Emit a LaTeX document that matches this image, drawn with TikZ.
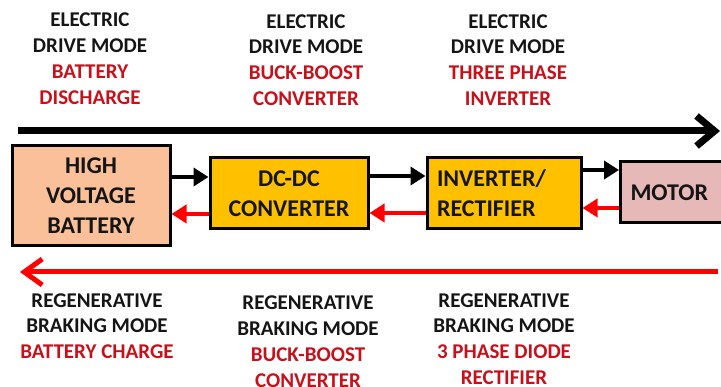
\documentclass[tikz,border=0pt]{standalone}
\usepackage{fontspec}
\setmainfont{Carlito}
\usetikzlibrary{arrows.meta}
\definecolor{peach}{HTML}{F9C09A}
\definecolor{amber}{HTML}{FFC000}
\definecolor{mauve}{HTML}{E6B8B7}
\definecolor{dred}{HTML}{C8101A}
\definecolor{txt}{HTML}{151515}
\begin{document}
\begin{tikzpicture}[x=1pt,y=-1pt,
  lbl/.style={font=\fontsize{21}{25.8}\selectfont\bfseries, align=center, inner sep=0pt, text=txt},
  blk/.style={draw=black, line width=3pt, font=\fontsize{24}{30}\selectfont\bfseries, align=center, inner sep=0pt, text=txt},
  fwd/.style={line width=4.5pt, -{Triangle[length=15pt,width=18pt]}},
  bwd/.style={fwd, red},
  bigfwd/.style={line width=7pt, -{Straight Barb[length=18pt,width=30pt]}},
  bigbwd/.style={line width=5pt, red, -{Straight Barb[length=18pt,width=26pt]}}
]
\useasboundingbox (0,0) rectangle (721,387);
\clip (0,0) rectangle (721,387);

% labels top
\node[lbl] (t1) at (90,58.5) {ELECTRIC\\DRIVE MODE\\{\color{dred}BATTERY}\\{\color{dred}DISCHARGE}};
\node[lbl] (t2) at (306,60) {ELECTRIC\\DRIVE MODE\\{\color{dred}BUCK-BOOST}\\{\color{dred}CONVERTER}};
\node[lbl] (t3) at (508,60) {ELECTRIC\\DRIVE MODE\\{\color{dred}THREE PHASE}\\{\color{dred}INVERTER}};

% labels bottom
\node[lbl] (b1) at (97,326) {REGENERATIVE\\BRAKING MODE\\{\color{dred}BATTERY CHARGE}};
\node[lbl] (b2) at (308,341.5) {REGENERATIVE\\BRAKING MODE\\{\color{dred}BUCK-BOOST}\\{\color{dred}CONVERTER}};
\node[lbl] (b3) at (504,339) {REGENERATIVE\\BRAKING MODE\\{\color{dred}3 PHASE DIODE}\\{\color{dred}RECTIFIER}};

% big arrows
\coordinate (ta) at (18,131);
\coordinate (tb) at (720,131);
\draw[bigfwd] (ta) -- (tb);
\coordinate (ra) at (718,272);
\coordinate (rb) at (20,272);
\draw[bigbwd] (ra) -- (rb);

% blocks
\node[blk, fill=peach, minimum width=158pt, minimum height=100pt] (bat) at (91,196) {HIGH\\VOLTAGE\\BATTERY};
\node[blk, fill=amber, minimum width=158pt, minimum height=71pt] (dc) at (289,193.5) {DC-DC\\CONVERTER};
\node[blk, fill=amber, minimum width=154pt, minimum height=71pt, text width=134pt, align=left, inner xsep=10pt] (inv) at (504,193.5) {INVERTER/\\RECTIFIER};
\node[blk, fill=mauve, minimum width=112pt, minimum height=61pt, text width=92pt, align=left, inner xsep=9pt, anchor=west] (mot) at (619,192.5) {MOTOR};

% connectors
\draw[fwd] (bat.east |- 0,177) -- (dc.west |- 0,177);
\draw[bwd] (dc.west |- 0,214) -- (bat.east |- 0,214);
\draw[fwd] (dc.east |- 0,176) -- (inv.west |- 0,176);
\draw[bwd] (inv.west |- 0,213) -- (dc.east |- 0,213);
\draw[fwd] (inv.east |- 0,170) -- (mot.west |- 0,170);
\draw[bwd] (mot.west |- 0,208) -- (inv.east |- 0,208);
\end{tikzpicture}
\end{document}
